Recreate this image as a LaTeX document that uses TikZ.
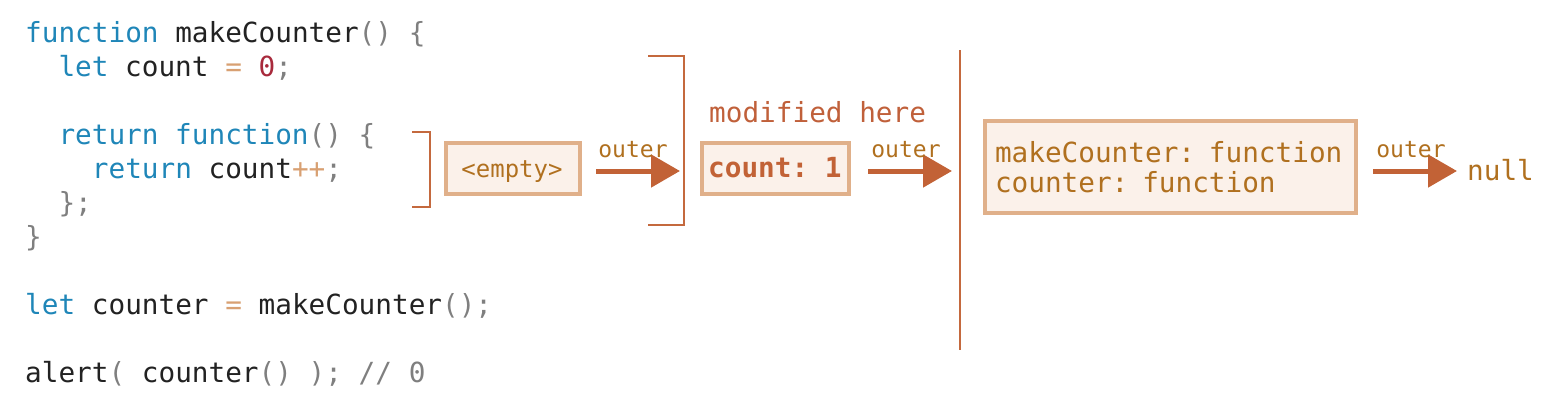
\documentclass[tikz,border=0pt]{standalone}
\usepackage{fontspec}
\setmonofont{DejaVu Sans Mono}
\usetikzlibrary{arrows.meta}
\definecolor{kw}{HTML}{1F86B8}
\definecolor{tx}{HTML}{222222}
\definecolor{pu}{HTML}{7F7F7F}
\definecolor{op}{HTML}{D8A072}
\definecolor{nu}{HTML}{A82A3C}
\definecolor{brk}{HTML}{C4693E}
\definecolor{arr}{HTML}{C26236}
\definecolor{lbl}{HTML}{B0701F}
\definecolor{red2}{HTML}{C0603A}
\definecolor{boxd}{HTML}{E0B08A}
\definecolor{boxf}{HTML}{FBF1EA}
\newcommand{\K}[1]{\textcolor{kw}{#1}}
\newcommand{\PU}[1]{\textcolor{pu}{#1}}
\newcommand{\OP}[1]{\textcolor{op}{#1}}
\newcommand{\NU}[1]{\textcolor{nu}{#1}}
\begin{document}
\begin{tikzpicture}[x=1pt,y=-1pt,
  code/.style={anchor=base west,inner sep=0pt,font=\ttfamily\fontsize{27.7}{34}\selectfont,text=tx},
  small/.style={inner sep=0pt,font=\ttfamily\fontsize{23}{26}\selectfont,text=lbl},
  envbox/.style={draw=boxd,fill=boxf,line width=4pt,inner sep=0pt},
  brack/.style={draw=brk,line width=2pt},
  link/.style={draw=arr,line width=5pt,-{Triangle[length=29pt,width=32pt]}}
]
\useasboundingbox (0,0) rectangle (1556,416);
% code
\node[code] (l1) at (25,42) {\K{function} makeCounter\PU{() \{}};
\node[code] (l2) at (58.3,76) {\K{let} count \OP{=} \NU{0}\PU{;}};
\node[code] (l4) at (58.3,144) {\K{return function}\PU{() \{}};
\node[code] (l5) at (91.7,178) {\K{return} count\OP{++}\PU{;}};
\node[code] (l6) at (58.3,212) {\PU{\};}};
\node[code] (l7) at (25,246) {\PU{\}}};
\node[code] (l9) at (25,314) {\K{let} counter \OP{=} makeCounter\PU{();}};
\node[code] (l11) at (25,382) {alert\PU{(} counter\PU{() );} \PU{// 0}};
% brackets
\draw[brack] (412,132) -- (430,132) -- (430,207) -- (412,207);
\draw[brack] (648,56) -- (684,56) -- (684,225) -- (648,225);
\draw[draw=brk,line width=2pt] (960,50) -- (960,350);
% boxes
\node[envbox,minimum width=134pt,minimum height=51pt] (empty) at (513,168.5) {};
\node[small,anchor=base,font=\ttfamily\fontsize{24}{26}\selectfont] (emptyt) at (512,177) {<empty>};
\node[envbox,minimum width=147pt,minimum height=51pt] (cnt) at (775.5,168.5) {};
\node[anchor=base west,inner sep=0pt,font=\ttfamily\bfseries\fontsize{27.7}{34}\selectfont,text=arr] (cntt) at (708,177) {count: 1};
\node[anchor=base west,inner sep=0pt,font=\ttfamily\fontsize{27.7}{34}\selectfont,text=red2] (mod) at (709,122) {modified here};
\node[envbox,minimum width=371pt,minimum height=92pt,text width=351pt,inner xsep=10pt,align=left,
  font=\ttfamily\fontsize{27.7}{30}\selectfont,text=lbl] (glob) at (1170.5,167) {makeCounter: function\\counter: function};
% arrows
\coordinate (a1s) at (596,171); \coordinate (a1e) at (680,171);
\coordinate (a2s) at (868,171); \coordinate (a2e) at (952,171);
\coordinate (a3s) at (1373,171); \coordinate (a3e) at (1457,171);
\draw[link] (a1s) -- (a1e);
\draw[link] (a2s) -- (a2e);
\draw[link] (a3s) -- (a3e);
\node[small,anchor=base] (o1) at (633,157) {outer};
\node[small,anchor=base] (o2) at (906,157) {outer};
\node[small,anchor=base] (o3) at (1411,157) {outer};
\node[anchor=base west,inner sep=0pt,font=\ttfamily\fontsize{27.7}{34}\selectfont,text=lbl] (null) at (1467,180) {null};
\end{tikzpicture}
\end{document}
